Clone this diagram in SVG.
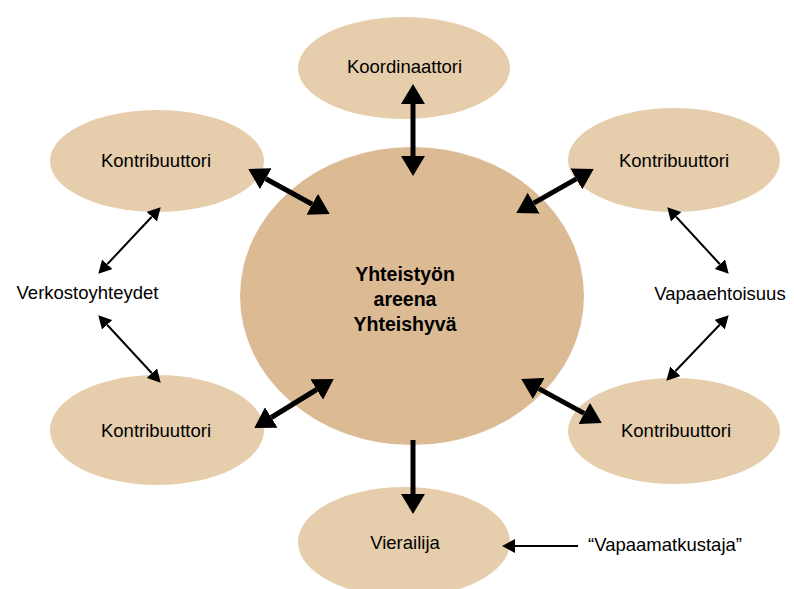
<svg xmlns="http://www.w3.org/2000/svg" width="794" height="589" viewBox="0 0 794 589">
<defs>
<style>
.node{fill:#E6CEAC}
.hub{fill:#DBBA94}
.lbl{font-family:"Liberation Sans",Arial,sans-serif;font-size:18.5px;fill:#000;text-anchor:middle}
.hubt{font-family:"Liberation Sans",Arial,sans-serif;font-size:19.5px;font-weight:bold;fill:#000;text-anchor:middle}
.thick{stroke:#000;stroke-width:5;fill:none}
.thin{stroke:#000;stroke-width:2;fill:none}
</style>
<marker id="ah" markerUnits="userSpaceOnUse" markerWidth="20" markerHeight="24" refX="0" refY="12" orient="auto-start-reverse" viewBox="0 0 20 24">
<path d="M0,0 L20,12 L0,24 z" fill="#000"/>
</marker>
<marker id="as" markerUnits="userSpaceOnUse" markerWidth="13" markerHeight="14" refX="0" refY="7" orient="auto-start-reverse" viewBox="0 0 13 14">
<path d="M0,0 L13,7 L0,14 z" fill="#000"/>
</marker>
</defs>
<rect width="794" height="589" fill="#fff"/>
<g id="hub"><ellipse class="hub" cx="412" cy="296" rx="172" ry="149"/>
<text class="hubt" x="405" y="281">Yhteistyön</text>
<text class="hubt" x="405" y="306">areena</text>
<text class="hubt" x="405" y="331">Yhteishyvä</text></g>
<g id="koordinaattori"><ellipse class="node" cx="404" cy="68" rx="106" ry="51"/><text class="lbl" x="404.5" y="73">Koordinaattori</text></g>
<g id="kontrib-tl"><ellipse class="node" cx="157" cy="161" rx="107" ry="51"/><text class="lbl" x="156" y="167">Kontribuuttori</text></g>
<g id="kontrib-tr"><ellipse class="node" cx="674" cy="160" rx="106" ry="52"/><text class="lbl" x="674" y="167">Kontribuuttori</text></g>
<g id="kontrib-bl"><ellipse class="node" cx="157" cy="430" rx="107" ry="55"/><text class="lbl" x="156" y="437">Kontribuuttori</text></g>
<g id="kontrib-br"><ellipse class="node" cx="674" cy="431" rx="106" ry="53"/><text class="lbl" x="676" y="437">Kontribuuttori</text></g>
<g id="vierailija"><ellipse class="node" cx="404" cy="542" rx="106" ry="55"/><text class="lbl" x="405" y="549">Vierailija</text></g>
<g id="verkosto"><text class="lbl" x="87.5" y="299">Verkostoyhteydet</text></g>
<g id="vapaaehtoisuus"><text class="lbl" x="720" y="300">Vapaaehtoisuus</text></g>
<g id="vapaamatkustaja"><text class="lbl" x="665" y="551">“Vapaamatkustaja”</text></g>
<g id="connectors">
<line class="thick" x1="413" y1="104" x2="413" y2="156" marker-start="url(#ah)" marker-end="url(#ah)"/>
<line class="thick" x1="265.8" y1="178.7" x2="312.2" y2="204.3" marker-start="url(#ah)" marker-end="url(#ah)"/>
<line class="thick" x1="576.3" y1="178.9" x2="533.7" y2="203.1" marker-start="url(#ah)" marker-end="url(#ah)"/>
<line class="thick" x1="271.3" y1="417.5" x2="316.7" y2="389.5" marker-start="url(#ah)" marker-end="url(#ah)"/>
<line class="thick" x1="538.8" y1="388.6" x2="584.2" y2="413.4" marker-start="url(#ah)" marker-end="url(#ah)"/>
<line class="thick" x1="413" y1="440" x2="413" y2="494" marker-end="url(#ah)"/>
<line class="thin" x1="151.8" y1="216.7" x2="107.2" y2="264.3" marker-start="url(#as)" marker-end="url(#as)"/>
<line class="thin" x1="107.1" y1="324.8" x2="151.9" y2="373.2" marker-start="url(#as)" marker-end="url(#as)"/>
<line class="thin" x1="676.1" y1="216.8" x2="719.9" y2="264.2" marker-start="url(#as)" marker-end="url(#as)"/>
<line class="thin" x1="719.7" y1="324.7" x2="675.3" y2="371.3" marker-start="url(#as)" marker-end="url(#as)"/>
<line class="thin" x1="578" y1="546" x2="515" y2="546" marker-end="url(#as)"/>
</g>
</svg>
